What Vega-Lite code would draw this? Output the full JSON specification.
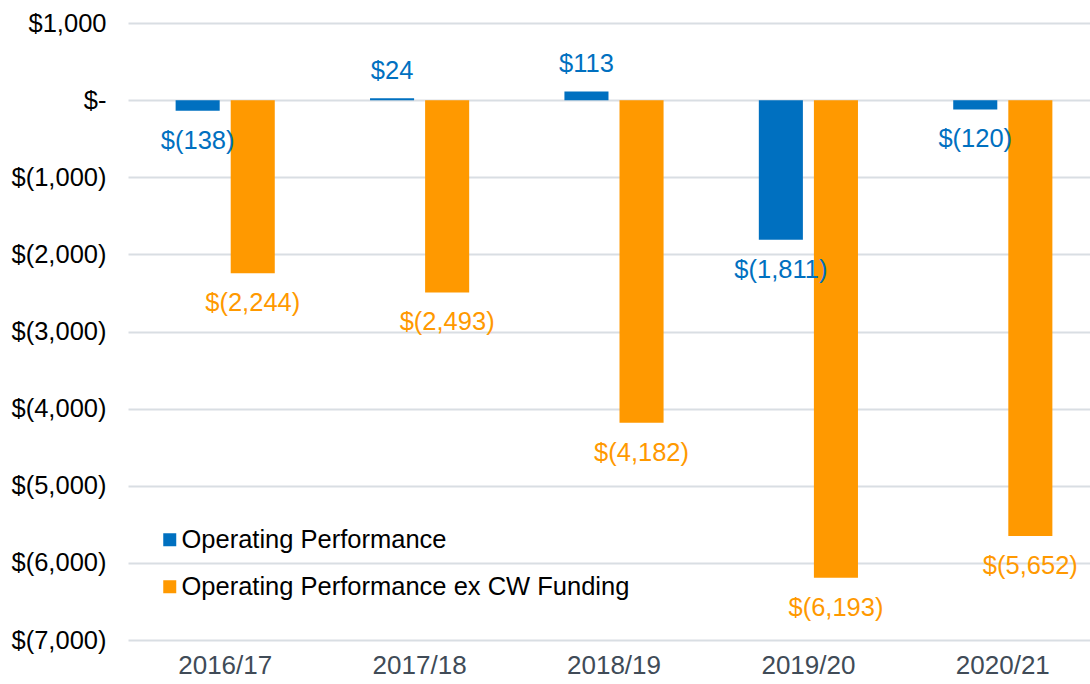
{
  "$schema": "https://vega.github.io/schema/vega-lite/v6.json",
  "width": 972,
  "height": 617,
  "autosize": {"type": "none"},
  "padding": {"left": 128, "top": 23, "right": 0, "bottom": 44},
  "config": {"view": {"stroke": null}, "font": "Liberation Sans"},
  "data": {
    "values": [
      {"year": "2016/17", "series": "Operating Performance", "value": -138},
      {"year": "2016/17", "series": "Operating Performance ex CW Funding", "value": -2244},
      {"year": "2017/18", "series": "Operating Performance", "value": 24},
      {"year": "2017/18", "series": "Operating Performance ex CW Funding", "value": -2493},
      {"year": "2018/19", "series": "Operating Performance", "value": 113},
      {"year": "2018/19", "series": "Operating Performance ex CW Funding", "value": -4182},
      {"year": "2019/20", "series": "Operating Performance", "value": -1811},
      {"year": "2019/20", "series": "Operating Performance ex CW Funding", "value": -6193},
      {"year": "2020/21", "series": "Operating Performance", "value": -120},
      {"year": "2020/21", "series": "Operating Performance ex CW Funding", "value": -5652}
    ]
  },
  "encoding": {
    "x": {
      "field": "year", "type": "nominal", "sort": null,
      "scale": {"paddingInner": 0.49, "paddingOuter": 0.245},
      "axis": {"title": null, "domain": false, "ticks": false, "labelAngle": 0, "labelFontSize": 26, "labelColor": "#404b57", "labelPadding": 12}
    },
    "xOffset": {
      "field": "series", "type": "nominal",
      "sort": ["Operating Performance", "Operating Performance ex CW Funding"],
      "scale": {"paddingInner": 0.2, "paddingOuter": 0}
    },
    "y": {
      "field": "value", "type": "quantitative",
      "scale": {"domain": [-7000, 1000], "nice": false},
      "axis": {
        "title": null, "domain": false, "ticks": false,
        "values": [-7000, -6000, -5000, -4000, -3000, -2000, -1000, 0, 1000],
        "labelExpr": "datum.value == 0 ? '$-' : (datum.value < 0 ? '$(' + format(-datum.value, ',') + ')' : '$' + format(datum.value, ','))",
        "labelFontSize": 25.5, "labelColor": "#000000", "labelPadding": 22,
        "gridColor": "#d9dee3", "gridWidth": 2
      }
    }
  },
  "layer": [
    {
      "mark": {"type": "bar"},
      "encoding": {
        "color": {
          "field": "series", "type": "nominal",
          "scale": {"domain": ["Operating Performance", "Operating Performance ex CW Funding"], "range": ["#0070C0", "#FF9900"]},
          "legend": {
            "title": null, "orient": "none", "legendX": 29, "legendY": 504,
            "symbolType": "square", "symbolSize": 169, "symbolStrokeWidth": 0,
            "labelFontSize": 25.5, "labelColor": "#000000", "labelOffset": -1,
            "rowPadding": 20, "padding": 0, "labelLimit": 600
          }
        }
      }
    },
    {
      "transform": [
        {"filter": "datum.value < 0"},
        {"calculate": "'$(' + format(-datum.value, ',') + ')'", "as": "label"}
      ],
      "mark": {"type": "text", "dy": 30, "fontSize": 25.5, "baseline": "middle"},
      "encoding": {
        "text": {"field": "label"},
        "color": {"field": "series", "type": "nominal", "legend": null}
      }
    },
    {
      "transform": [
        {"filter": "datum.value >= 0"},
        {"calculate": "'$' + format(datum.value, ',')", "as": "label"}
      ],
      "mark": {"type": "text", "dy": -27, "fontSize": 25.5, "baseline": "middle"},
      "encoding": {
        "text": {"field": "label"},
        "color": {"field": "series", "type": "nominal", "legend": null}
      }
    }
  ]
}
